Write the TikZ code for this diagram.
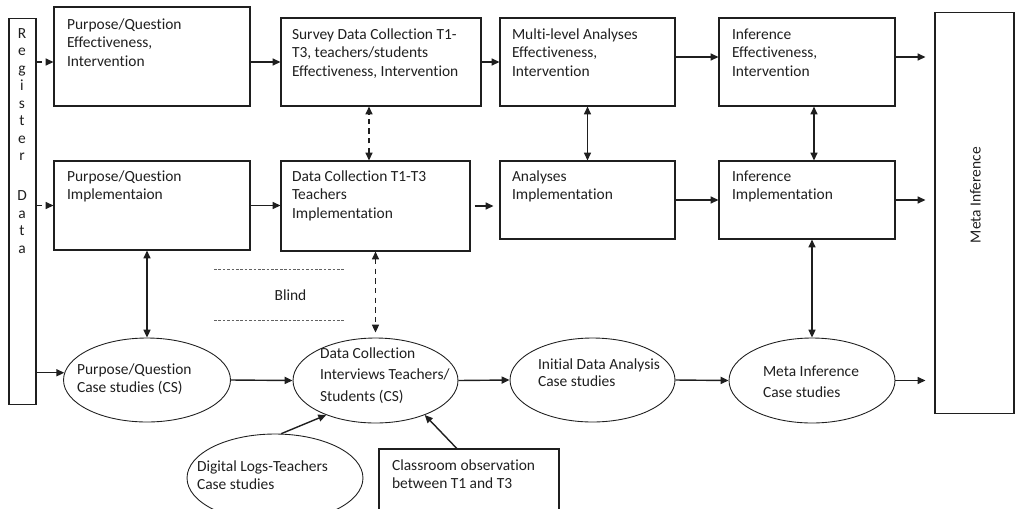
\documentclass[tikz,border=0pt]{standalone}
\usepackage{fontspec}
\setmainfont{Carlito}[Ligatures={NoCommon}]
\usepackage{graphicx}
\usetikzlibrary{arrows.meta}
\usetikzlibrary{shapes.geometric}
\definecolor{ink}{gray}{0.12}
\newcommand{\boxlines}[4][l]{%
    \makebox[0pt][l]{\hspace*{#2}\raisebox{#3}[0pt][0pt]{%
        \begin{tabular}[t]{@{}#1@{}}#4\end{tabular}}}%
}

\begin{document}
\begin{tikzpicture}[x=0.02cm, y=-0.02cm,
                    every node/.style={
                        text=ink,
                        font=\fontsize{8.8pt}{10.8pt}\selectfont
                    },
                    box/.style={draw=ink, line width=0.6pt, rectangle, inner sep=0pt},
                    oval/.style={draw=ink, line width=0.5pt, ellipse, inner sep=0pt},
                    spacing/.style={font=\fontsize{8.8pt}{#1}\selectfont},
                    link/.style={draw=ink, line width=0.8pt,
                        -{Triangle[length=4.5pt,width=4pt]}},
                    twoway/.style={draw=ink, line width=0.8pt,
                        {Triangle[length=4.5pt,width=4pt]}-{Triangle[length=4.5pt,width=4pt]}},
                    broken/.style={dash pattern=on 3pt off 2.5pt},
                    blindline/.style={draw=ink!70, line width=0.4pt, dash pattern=on 1.5pt off 1pt}]

    \useasboundingbox (0,0) rectangle (1015,508);
    \clip (0,0) rectangle (1015,508);

    \node[box, minimum width=0.54cm, minimum height=7.74cm, spacing=9.96pt] (reg) at (22.5,211.5)
        {\boxlines[c]{-0.105cm}{3.47cm}{R\\e\\g\\i\\s\\t\\e\\r\\[0.45cm]D\\a\\t\\a}};
    \node[box, minimum width=1.58cm, minimum height=8.04cm] (meta) at (974.5,213)
        {\boxlines{-0.09cm}{-0.60cm}{\rotatebox{90}{Meta Inference}}};

    % effectiveness
    \node[box, minimum width=3.92cm, minimum height=1.98cm] (p1) at (152,56.5)
        {\boxlines{-1.70cm}{0.55cm}{Purpose/Question\\Effectiveness,\\Intervention}};
    \node[box, minimum width=4.00cm, minimum height=1.76cm] (s1) at (381,62)
        {\boxlines{-1.78cm}{0.46cm}{Survey Data Collection T1-\\T3, teachers/students\\Effectiveness, Intervention}};
    \node[box, minimum width=3.50cm, minimum height=1.76cm] (a1) at (587.5,62)
        {\boxlines{-1.51cm}{0.46cm}{Multi-level Analyses\\Effectiveness,\\Intervention}};
    \node[box, minimum width=3.52cm, minimum height=1.76cm] (i1) at (807,62)
        {\boxlines{-1.50cm}{0.46cm}{Inference\\Effectiveness,\\Intervention}};

    % implementation
    \node[box, minimum width=3.92cm, minimum height=1.78cm] (p2) at (152,205.5)
        {\boxlines{-1.70cm}{0.49cm}{Purpose/Question\\Implementaion}};
    \node[box, minimum width=3.78cm, minimum height=1.80cm] (s2) at (375.5,206)
        {\boxlines{-1.67cm}{0.50cm}{Data Collection T1-T3\\Teachers\\Implementation}};
    \node[box, minimum width=3.50cm, minimum height=1.56cm] (a2) at (587.5,200)
        {\boxlines{-1.51cm}{0.38cm}{Analyses\\Implementation}};
    \node[box, minimum width=3.52cm, minimum height=1.56cm] (i2) at (807,200)
        {\boxlines{-1.50cm}{0.38cm}{Inference\\Implementation}};

    \node (blind) at (290.5,295) {Blind};
    \draw[blindline] (214,269) -- (344,269);
    \draw[blindline] (214,320) -- (344,320);

    % case studies
    \node[oval, minimum width=3.34cm, minimum height=1.68cm] (e1) at (147,380)
        {\boxlines{-1.40cm}{0.12cm}{Purpose/Question\\Case studies (CS)}};
    \node[oval, minimum width=3.30cm, minimum height=1.70cm, spacing=12.5pt] (e2) at (375.5,380.5)
        {\boxlines{-1.11cm}{0.45cm}{Data Collection\\Interviews Teachers/\\Students (CS)}};
    \node[oval, minimum width=3.30cm, minimum height=1.68cm, spacing=9.67pt] (e3) at (592.5,380)
        {\boxlines{-1.09cm}{0.22cm}{Initial Data Analysis\\Case studies}};
    \node[oval, minimum width=3.32cm, minimum height=1.70cm, spacing=11.95pt] (e4) at (812,380.5)
        {\boxlines{-0.98cm}{0.09cm}{Meta Inference\\Case studies}};
    \node[oval, minimum width=3.52cm, minimum height=1.76cm] (e5) at (275,478)
        {\boxlines{-1.56cm}{0.14cm}{Digital Logs-Teachers\\Case studies}};
    \node[box, minimum width=3.60cm, minimum height=1.80cm] (cls) at (469,494)
        {\boxlines{-1.54cm}{0.48cm}{Classroom observation\\between T1 and T3}};

    \coordinate (i1out) at ([yshift=0.1cm]i1.east);
    \coordinate (s2up) at ([xshift=-0.13cm]s2.north);

    \draw[link, broken] (reg.east |- s1.west) -- (p1.west |- s1.west);
    \draw[link, broken] (reg.east |- p2.west) -- (p2.west);
    \draw[link] (reg.east |- e1.175) -- (e1.175);

    \draw[link] (p1.east |- s1.west) -- (s1.west);
    \draw[link] (s1.east) -- (a1.west);
    \draw[link] ([yshift=0.1cm]a1.east) -- ([yshift=0.1cm]i1.west);
    \draw[link, shorten >=0.18cm] (i1out) -- (i1out -| meta.west);

    \draw[link] (p2.east) -- (p2.east -| s2.west);
    \draw[link, shorten <=0.08cm, shorten >=0.12cm] (s2.east) -- (s2.east -| a2.west);
    \draw[link] (a2.east) -- (i2.west);
    \draw[link, shorten >=0.18cm] (i2.east) -- (i2.east -| meta.west);

    \draw[twoway, broken] (s2up) -- (s2up |- s1.south);
    \draw[twoway] (a1.south) -- (a2.north);
    \draw[twoway] ([xshift=0.14cm]i1.south) -- ([xshift=0.14cm]i2.north);
    \draw[twoway] (e1.north |- p2.south) -- (e1.north);
    \draw[twoway, broken, shorten >=0.1cm] (e2.north |- s2.south) -- (e2.north);
    \draw[twoway] (e4.north |- i2.south) -- (e4.north);

    \draw[link] (e1.east) -- (e2.west);
    \draw[link] (e2.east) -- (e3.west);
    \draw[link] (e3.east) -- (e4.west);
    \draw[link, shorten >=0.18cm] (e4.east) -- (e4.east -| meta.west);
    \draw[link] (e5.82) -- (e2.215);
    \draw[link] (cls.105) -- (e2.325);

\end{tikzpicture}
\end{document}
